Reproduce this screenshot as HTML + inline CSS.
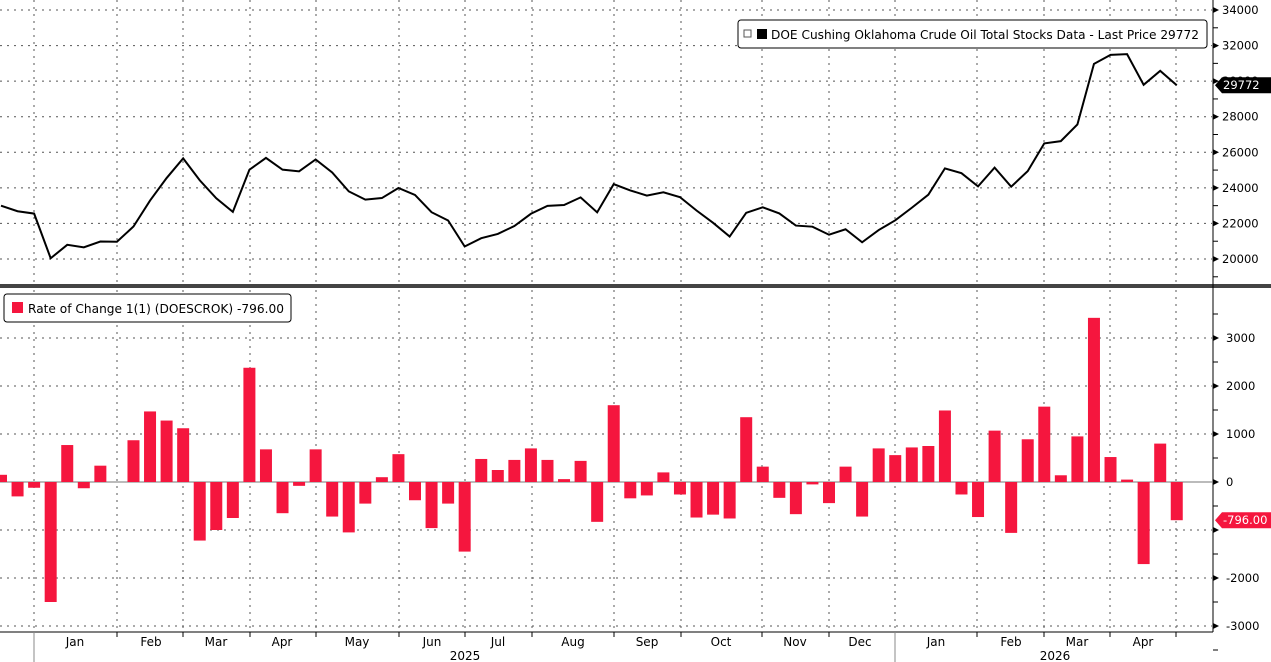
<!DOCTYPE html>
<html><head><meta charset="utf-8"><style>
html,body{margin:0;padding:0;background:#fff;}
svg{display:block;font-family:"DejaVu Sans","Liberation Sans",sans-serif;}
</style></head><body>
<svg id="c" width="1271" height="662" xmlns="http://www.w3.org/2000/svg"></svg>
<script>
const s=document.getElementById('c');let h='';
const chg=[150,-300,-120,-2500,770,-130,340,0,870,1470,1280,1120,-1220,-1000,-750,2380,680,-650,-80,680,-720,-1050,-450,100,580,-380,-960,-450,-1450,480,250,460,700,460,60,440,-830,1600,-340,-280,200,-260,-740,-680,-760,1350,320,-330,-670,-50,-440,320,-720,700,560,720,750,1490,-260,-730,1070,-1060,890,1570,140,950,3420,520,50,-1710,800,-796];
const N=chg.length;const X=i=>1+i*16.56;
const vals=new Array(N);vals[N-1]=29772;for(let i=N-1;i>0;i--)vals[i-1]=vals[i]-chg[i];
for(let i=0;i<N;i++)vals[i]+=900*(1-i/(N-1));
const yT=v=>10+(34000-v)/2000*35.57;const yB=v=>482-v/1000*48;
const vlines=[34,117,183,250,316,399,465,532,614,681,762,829,895,977,1044,1110,1176];
for(const x of vlines){h+=`<line x1="${x}" y1="0" x2="${x}" y2="283" stroke="#555" stroke-width="1" stroke-dasharray="2,5"/>`;h+=`<line x1="${x}" y1="290" x2="${x}" y2="632" stroke="#555" stroke-width="1" stroke-dasharray="2,5"/>`;}
for(let v=20000;v<=34000;v+=2000){const y=yT(v);h+=`<line x1="0" y1="${y}" x2="1212" y2="${y}" stroke="#555" stroke-dasharray="2,5"/>`;}
for(let v=-3000;v<=3000;v+=1000){const y=yB(v);h+=`<line x1="0" y1="${y}" x2="1212" y2="${y}" stroke="#555" stroke-dasharray="2,5"/>`;}
h+=`<line x1="0" y1="482" x2="1212" y2="482" stroke="#777" stroke-width="1"/>`;
chg.forEach((v,i)=>{const x=X(i)-6;const y=Math.min(yB(v),482);const ht=Math.abs(yB(v)-482);h+=`<rect x="${x}" y="${y}" width="12" height="${ht}" fill="#f5163e"/>`;});
h+=`<polyline fill="none" stroke="#000" stroke-width="2" points="${vals.map((v,i)=>X(i)+','+yT(v)).join(' ')}"/>`;
h+=`<rect x="0" y="284" width="1271" height="4" fill="#444"/>`;
h+=`<line x1="1213" y1="0" x2="1213" y2="632" stroke="#000"/>`;
for(let v=20000;v<=34000;v+=2000){const y=yT(v);h+=`<polygon points="1213,${y-3} 1219,${y} 1213,${y+3}" fill="#000"/><text x="1222" y="${y+4}" font-size="11.5" fill="#000">${v}</text><line x1="1213" y1="${y+17.8}" x2="1218" y2="${y+17.8}" stroke="#000"/>`;}
for(let v=-3000;v<=3000;v+=1000){const y=yB(v);h+=`<polygon points="1213,${y-3} 1219,${y} 1213,${y+3}" fill="#000"/>`;if(v!=-1000)h+=`<text x="1226" y="${y+4}" font-size="11.5" fill="#000">${v}</text>`;h+=`<line x1="1213" y1="${y+24}" x2="1218" y2="${y+24}" stroke="#000"/>`;}
h+=`<line x1="1213" y1="${yB(3500)}" x2="1218" y2="${yB(3500)}" stroke="#000"/>`;
let y=yT(29772);h+=`<polygon points="1215,${y} 1222,${y-8} 1271,${y-8} 1271,${y+8} 1222,${y+8}" fill="#000"/><text x="1223" y="${y+4}" font-size="11.5" fill="#fff">29772</text>`;
y=yB(-796);h+=`<polygon points="1215,${y} 1222,${y-8} 1271,${y-8} 1271,${y+8} 1222,${y+8}" fill="#f5163e"/><text x="1223" y="${y+4}" font-size="11.5" fill="#fff">-796.00</text>`;
h+=`<rect x="738" y="20" width="469" height="28" rx="3" fill="#fff" stroke="#000"/><rect x="744" y="30" width="7" height="7" fill="#fff" stroke="#555"/><rect x="757" y="29" width="10" height="10" fill="#000"/><text x="771" y="39" font-size="12.5" fill="#000" textLength="428" lengthAdjust="spacingAndGlyphs">DOE Cushing Oklahoma Crude Oil Total Stocks Data - Last Price 29772</text>`;
h+=`<rect x="4" y="294" width="287" height="28" rx="3" fill="#fff" stroke="#000"/><rect x="12" y="302" width="11" height="11" fill="#f5163e"/><text x="28" y="313" font-size="12.5" fill="#000" textLength="256" lengthAdjust="spacingAndGlyphs">Rate of Change 1(1) (DOESCROK) -796.00</text>`;
h+=`<line x1="0" y1="632" x2="1213" y2="632" stroke="#000"/>`;
for(const x of vlines)h+=`<line x1="${x}" y1="632" x2="${x}" y2="637" stroke="#000"/>`;
h+=`<line x1="34" y1="632" x2="34" y2="662" stroke="#888"/><line x1="895" y1="632" x2="895" y2="662" stroke="#888"/>`;
const ml=[["Jan",75],["Feb",151],["Mar",216],["Apr",282],["May",357],["Jun",432],["Jul",498],["Aug",573],["Sep",647],["Oct",721],["Nov",795],["Dec",860],["Jan",936],["Feb",1011],["Mar",1077],["Apr",1143]];
for(const [t,x] of ml)h+=`<text x="${x}" y="646" font-size="12" text-anchor="middle" fill="#000">${t}</text>`;
h+=`<text x="465" y="660" font-size="12" text-anchor="middle">2025</text><text x="1055" y="660" font-size="12" text-anchor="middle">2026</text>`;
s.innerHTML=h;
</script>
</body></html>
